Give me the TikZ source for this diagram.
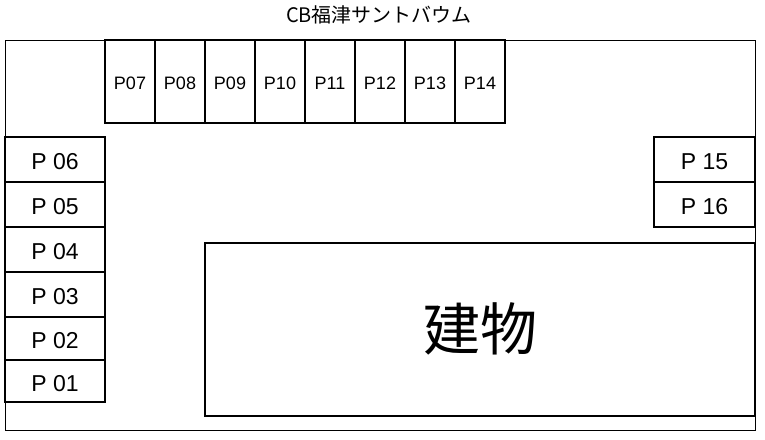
\documentclass[tikz,border=0pt]{standalone}
\usepackage{fontspec}
\setmainfont{Liberation Sans}
\newfontfamily\jp{Noto Sans CJK JP}
\begin{document}
\begin{tikzpicture}[x=1pt,y=-1pt,
  spot/.style={draw=black,line width=2pt,inner sep=0pt,outer sep=0pt,anchor=north west},
  topspot/.style={spot,minimum width=50pt,minimum height=83pt,font=\fontsize{18}{18}\selectfont,text height=16.5pt,text depth=0pt},
  sidespot/.style={spot,minimum width=100pt,font=\fontsize{23}{23}\selectfont,text height=20.5pt,text depth=0pt}]
\useasboundingbox (0,0) rectangle (765,439);
\node[draw=black,line width=1pt,minimum width=750pt,minimum height=390pt,anchor=north west,inner sep=0pt] (lot) at (5,40) {};
\node[font=\jp\fontsize{20}{20}\selectfont] (title) at (379,15) {CB福津サントバウム};
\node[topspot] (p07) at (105,40) {P07};
\node[topspot] (p08) at (155,40) {P08};
\node[topspot] (p09) at (205,40) {P09};
\node[topspot] (p10) at (255,40) {P10};
\node[topspot] (p11) at (305,40) {P11};
\node[topspot] (p12) at (355,40) {P12};
\node[topspot] (p13) at (405,40) {P13};
\node[topspot] (p14) at (455,40) {P14};
\node[sidespot,minimum height=45pt] (p06) at (5,137) {P 06};
\node[sidespot,minimum height=45pt] (p05) at (5,182) {P 05};
\node[sidespot,minimum height=45pt] (p04) at (5,227) {P 04};
\node[sidespot,minimum height=45pt] (p03) at (5,272) {P 03};
\node[sidespot,minimum height=43pt] (p02) at (5,317) {P 02};
\node[sidespot,minimum height=42pt] (p01) at (5,360) {P 01};
\node[sidespot,minimum height=45pt,minimum width=101pt] (p15) at (654,137) {P 15};
\node[sidespot,minimum height=45pt,minimum width=101pt] (p16) at (654,182) {P 16};
\node[spot,minimum width=550pt,minimum height=173pt,font=\jp\fontsize{57}{57}\selectfont] (bldg) at (205,242.5) {建物};
\end{tikzpicture}
\end{document}
